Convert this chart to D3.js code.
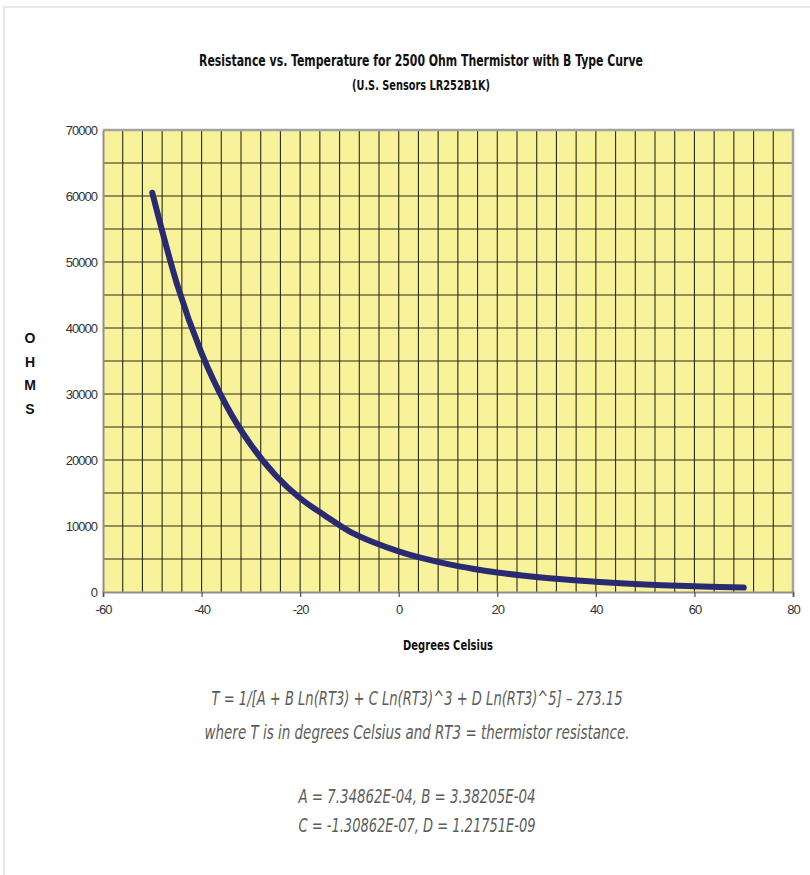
<!DOCTYPE html>
<html>
<head>
<meta charset="utf-8">
<script src="https://cdn.jsdelivr.net/npm/d3@7"></script>
<style>
  body { margin: 0; background: #fff; }
  svg { display: block; }
</style>
</head>
<body>
<div id="chart"></div>
<script>
// values
const temps = [-50, -45, -40, -35, -30, -25, -20, -15, -10, -5, 0, 5, 10, 15, 20, 25, 30, 35, 40, 45, 50, 55, 60, 65, 70];
const ohms = [60500, 46700, 36200, 28300, 22300, 17700, 14200, 11600, 9200, 7500, 6160, 5090, 4220, 3530, 2960, 2500, 2120, 1810, 1550, 1340, 1150, 1000, 870, 760, 670];

const xTicks = [-60, -40, -20, 0, 20, 40, 60, 80];
const yTicks = [0, 10000, 20000, 30000, 40000, 50000, 60000, 70000];
const xGrid = d3.range(-56, 80, 4);
const yGrid = d3.range(5000, 70000, 5000);

const titleText = "Resistance vs. Temperature for 2500 Ohm Thermistor with B Type Curve";
const subtitleText = "(U.S. Sensors LR252B1K)";
const xLabel = "Degrees Celsius";
const yLabel = ["O", "H", "M", "S"];
const notes = [
  "T = 1/[A + B Ln(RT3) + C Ln(RT3)^3 + D Ln(RT3)^5] \u2013 273.15",
  "where T is in degrees Celsius and RT3 = thermistor resistance.",
  "A = 7.34862E-04, B = 3.38205E-04",
  "C = -1.30862E-07, D = 1.21751E-09"
];

function draw() {
  const width = 810, height = 875;
  const font = "'Liberation Sans Narrow', 'DejaVu Sans Condensed', Arial, sans-serif";
  const tickFont = "'Liberation Sans', Arial, sans-serif";

  const svg = d3.select("#chart").append("svg")
    .attr("width", width)
    .attr("height", height);

  // faint page frame
  svg.append("path")
    .attr("d", `M4,${height} V7 H${width}`)
    .attr("fill", "none")
    .attr("stroke", "#e2e9f0")
    .attr("stroke-width", 2);

  const x = d3.scaleLinear().domain([-60, 80]).range([103, 793]);
  const y = d3.scaleLinear().domain([0, 70000]).range([592, 130]);

  // plot area
  svg.append("rect")
    .attr("x", x(-60)).attr("y", y(70000))
    .attr("width", x(80) - x(-60)).attr("height", y(0) - y(70000))
    .attr("fill", "#f8f39b");

  const grid = svg.append("g")
    .attr("stroke", "#2c2b16")
    .attr("stroke-width", 1.1);

  grid.selectAll("line.v")
    .data(xGrid)
    .join("line")
    .attr("class", "v")
    .attr("x1", d => x(d)).attr("x2", d => x(d))
    .attr("y1", y(70000)).attr("y2", y(0));

  grid.selectAll("line.h")
    .data(yGrid)
    .join("line")
    .attr("class", "h")
    .attr("x1", x(-60)).attr("x2", x(80))
    .attr("y1", d => y(d)).attr("y2", d => y(d));

  // top / right border
  svg.append("path")
    .attr("d", `M${x(-60)},${y(70000)} H${x(80)} V${y(0)}`)
    .attr("fill", "none")
    .attr("stroke", "#a3a3a3")
    .attr("stroke-width", 2.5);

  // axes
  const xAxis = svg.append("g")
    .attr("transform", `translate(0,${y(0)})`)
    .call(d3.axisBottom(x).tickValues(xTicks).tickSize(5).tickPadding(8).tickFormat(d => String(d)));
  const yAxis = svg.append("g")
    .attr("transform", `translate(${x(-60)},0)`)
    .call(d3.axisLeft(y).tickValues(yTicks).tickSize(0).tickPadding(6).tickFormat(d => String(d)));

  [xAxis, yAxis].forEach(a => {
    a.select(".domain").attr("stroke", "#8f8f8f").attr("stroke-width", 2);
    a.selectAll(".tick line").attr("stroke", "#555").attr("stroke-width", 1.2);
    a.selectAll("text")
      .attr("font-family", tickFont)
      .attr("font-size", 13)
      .attr("letter-spacing", -1)
      .attr("fill", "#333");
  });

  // resistance curve
  const line = d3.line()
    .x((d, i) => x(temps[i]))
    .y(d => y(d))
    .curve(d3.curveMonotoneX);

  svg.append("path")
    .datum(ohms)
    .attr("d", line)
    .attr("fill", "none")
    .attr("stroke", "#2a2a72")
    .attr("stroke-width", 6)
    .attr("stroke-linecap", "round")
    .attr("stroke-linejoin", "round");

  // titles
  svg.append("text")
    .attr("x", 421).attr("y", 66)
    .attr("text-anchor", "middle")
    .attr("font-family", font).attr("font-weight", "bold").attr("font-size", 15.5)
    .attr("textLength", 444).attr("lengthAdjust", "spacingAndGlyphs")
    .attr("fill", "#111")
    .text(titleText);

  svg.append("text")
    .attr("x", 421).attr("y", 90)
    .attr("text-anchor", "middle")
    .attr("font-family", font).attr("font-weight", "bold").attr("font-size", 13.5)
    .attr("textLength", 138).attr("lengthAdjust", "spacingAndGlyphs")
    .attr("fill", "#111")
    .text(subtitleText);

  svg.append("text")
    .attr("x", 448).attr("y", 650)
    .attr("text-anchor", "middle")
    .attr("font-family", font).attr("font-weight", "bold").attr("font-size", 13.5)
    .attr("textLength", 90).attr("lengthAdjust", "spacingAndGlyphs")
    .attr("fill", "#111")
    .text(xLabel);

  svg.append("g")
    .selectAll("text")
    .data(yLabel)
    .join("text")
    .attr("x", 30)
    .attr("y", (d, i) => 343 + i * 23.5)
    .attr("text-anchor", "middle")
    .attr("font-family", "'Liberation Sans', Arial, sans-serif")
    .attr("font-weight", "bold").attr("font-size", 14)
    .attr("fill", "#111")
    .text(d => d);

  // formula notes
  const noteLayout = [
    { y: 705, w: 411 },
    { y: 739, w: 425 },
    { y: 803, w: 237 },
    { y: 832, w: 237 }
  ];
  svg.append("g")
    .selectAll("text")
    .data(notes)
    .join("text")
    .attr("x", 417)
    .attr("y", (d, i) => noteLayout[i].y)
    .attr("text-anchor", "middle")
    .attr("font-family", font)
    .attr("font-style", "italic")
    .attr("font-size", 20)
    .attr("fill", "#5c5c5c")
    .attr("textLength", (d, i) => noteLayout[i].w)
    .attr("lengthAdjust", "spacingAndGlyphs")
    .text(d => d);
}
draw();
</script>
</body>
</html>
